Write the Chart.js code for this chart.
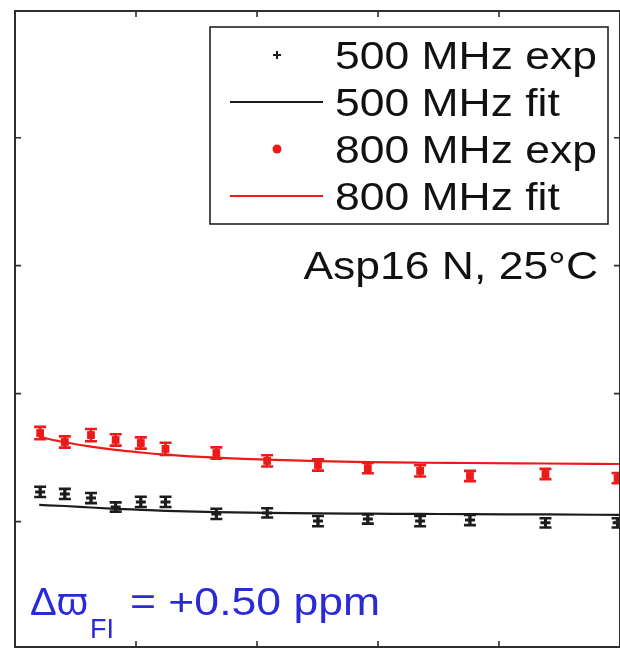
<!DOCTYPE html>
<html>
<head>
<meta charset="utf-8">
<script src="https://cdn.jsdelivr.net/npm/chart.js@4/dist/chart.umd.min.js"></script>
<style>
  html, body { margin: 0; padding: 0; overflow: hidden; background: #fff; }
  #wrap { width: 620px; height: 649px; }
</style>
</head>
<body>
<div id="wrap"><canvas id="c" width="620" height="649"></canvas></div>
<script>
// CPMG frequencies (Hz) of the measured points
const freq = [52, 103, 157, 208, 260, 311, 416, 521, 626, 729, 837, 940, 1096, 1245];

// R2,eff at 500 MHz (measured) and its uncertainty
const r2_500_exp = [6.16, 6.08, 5.92, 5.57, 5.77, 5.77, 5.30, 5.34, 5.02, 5.10, 5.02, 5.06, 4.95, 4.95];
const r2_500_err = [0.20, 0.20, 0.20, 0.18, 0.20, 0.20, 0.20, 0.18, 0.20, 0.18, 0.20, 0.20, 0.18, 0.18];

// R2,eff at 800 MHz (measured) and its uncertainty
const r2_800_exp = [8.46, 8.11, 8.38, 8.19, 8.07, 7.84, 7.68, 7.37, 7.21, 7.09, 6.98, 6.78, 6.86, 6.70];
const r2_800_err = [0.24, 0.22, 0.24, 0.22, 0.22, 0.24, 0.22, 0.22, 0.22, 0.20, 0.22, 0.20, 0.20, 0.20];

// fitted dispersion curves
const fitFreq    = [50, 103, 157, 208, 260, 311, 416, 521, 626, 729, 837, 940, 1096, 1250];
const r2_500_fit = [5.65, 5.61, 5.55, 5.50, 5.46, 5.42, 5.37, 5.34, 5.32, 5.31, 5.30, 5.29, 5.28, 5.26];
const r2_800_fit = [8.31, 8.10, 7.93, 7.80, 7.70, 7.62, 7.50, 7.42, 7.36, 7.32, 7.30, 7.29, 7.27, 7.25];

// axis ranges and tick positions (tick labels are not shown)
const xRange = [0, 1250];
const yRange = [0.1, 24.95];
const xTicks = [250, 500, 750, 1000];
const yTicks = [5, 10, 15, 20];

// texts
const seriesLabels = ['500 MHz exp', '500 MHz fit', '800 MHz exp', '800 MHz fit'];
const residueLabel = 'Asp16 N, 25°C';
const shiftMain = 'Δϖ';
const shiftSub = 'FI';
const shiftValue = '= +0.50 ppm';

const BLACK = '#1c1c1c';
const RED = '#ee1a1a';
const BLUE = '#2a2ad6';
const FONT = '"Liberation Sans", Arial, Helvetica, sans-serif';
const SX = 1.17; // horizontal stretch of the labels

function pts(xs, ys) { return xs.map((x, i) => ({ x: x, y: ys[i] })); }

// draws a label stretched horizontally; an optional width forces its extent
function drawText(ctx, s, x, y, size, color, align, width) {
  ctx.save();
  ctx.font = size + 'px ' + FONT;
  const raw = ctx.measureText(s).width;
  const sx = width ? width / raw : SX;
  const w = raw * sx;
  const x0 = align === 'right' ? x - w : x;
  ctx.translate(x0, y);
  ctx.scale(sx, 1);
  ctx.fillStyle = color;
  ctx.textAlign = 'left';
  ctx.textBaseline = 'alphabetic';
  ctx.fillText(s, 0, 0);
  ctx.restore();
  return w;
}

// vertical error bars with caps on the measured series
const errorBars = {
  id: 'errorBars',
  afterDatasetsDraw(chart) {
    const ctx = chart.ctx;
    const ys = chart.scales.y;
    chart.data.datasets.forEach((ds, di) => {
      if (!ds.errors) return;
      const meta = chart.getDatasetMeta(di);
      ctx.save();
      ctx.strokeStyle = ds.borderColor;
      ctx.lineWidth = 2.6;
      meta.data.forEach((el, i) => {
        const v = ds.data[i].y, e = ds.errors[i];
        const top = ys.getPixelForValue(v + e);
        const bot = ys.getPixelForValue(v - e);
        const hw = ds.capHalf;
        ctx.beginPath();
        ctx.moveTo(el.x, top); ctx.lineTo(el.x, bot);
        ctx.moveTo(el.x - hw, top); ctx.lineTo(el.x + hw, top);
        ctx.moveTo(el.x - hw, bot); ctx.lineTo(el.x + hw, bot);
        ctx.stroke();
      });
      ctx.restore();
    });
  }
};

// box frame with inward ticks on all four sides
const frame = {
  id: 'frame',
  afterDraw(chart) {
    const ctx = chart.ctx, a = chart.chartArea;
    const xs = chart.scales.x, ys = chart.scales.y;
    const tl = 6;
    ctx.save();
    ctx.strokeStyle = '#2e2e2e';
    ctx.lineWidth = 2;
    ctx.strokeRect(a.left, a.top, a.right - a.left, a.bottom - a.top);
    ctx.lineWidth = 1.6;
    ctx.beginPath();
    xTicks.forEach(t => {
      const px = xs.getPixelForValue(t);
      ctx.moveTo(px, a.top); ctx.lineTo(px, a.top + tl);
      ctx.moveTo(px, a.bottom); ctx.lineTo(px, a.bottom - tl);
    });
    yTicks.forEach(t => {
      const py = ys.getPixelForValue(t);
      ctx.moveTo(a.left, py); ctx.lineTo(a.left + tl, py);
      ctx.moveTo(a.right, py); ctx.lineTo(a.right - tl, py);
    });
    ctx.stroke();
    ctx.restore();
  }
};

// legend box and panel annotations
const panelText = {
  id: 'panelText',
  afterDraw(chart) {
    const ctx = chart.ctx;
    const box = { l: 210, t: 27, r: 608, b: 224 };
    ctx.save();
    ctx.fillStyle = '#fff';
    ctx.fillRect(box.l, box.t, box.r - box.l, box.b - box.t);
    ctx.strokeStyle = '#222';
    ctx.lineWidth = 1.6;
    ctx.strokeRect(box.l, box.t, box.r - box.l, box.b - box.t);

    const baselines = [69, 116, 163, 210];
    const sampleL = 230, sampleR = 323, sampleC = 277, textX = 335;
    chart.data.datasets.forEach((ds, i) => {
      const base = baselines[i];
      const cy = base - 14;
      if (ds.showLine) {
        ctx.strokeStyle = ds.borderColor;
        ctx.lineWidth = 2;
        ctx.beginPath();
        ctx.moveTo(sampleL, cy); ctx.lineTo(sampleR, cy);
        ctx.stroke();
      } else if (ds.pointStyle === 'cross') {
        ctx.strokeStyle = ds.borderColor;
        ctx.lineWidth = 2;
        ctx.beginPath();
        ctx.moveTo(sampleC - 4, cy); ctx.lineTo(sampleC + 4, cy);
        ctx.moveTo(sampleC, cy - 4); ctx.lineTo(sampleC, cy + 4);
        ctx.stroke();
      } else {
        ctx.fillStyle = ds.backgroundColor;
        ctx.beginPath();
        ctx.arc(sampleC, cy, 4.5, 0, Math.PI * 2);
        ctx.fill();
      }
      drawText(ctx, ds.label, textX, base, 38, '#111', 'left');
    });

    drawText(ctx, residueLabel, 598, 279, 38, '#111', 'right');

    drawText(ctx, shiftMain, 30, 615, 38, BLUE, 'left', 58);
    drawText(ctx, shiftSub, 90, 638, 27, BLUE, 'left', 24);
    drawText(ctx, shiftValue, 130, 615, 38, BLUE, 'left', 250);
    ctx.restore();
  }
};

new Chart(document.getElementById('c'), {
  type: 'scatter',
  data: {
    datasets: [
      {
        label: seriesLabels[0],
        data: pts(freq, r2_500_exp),
        errors: r2_500_err,
        capHalf: 6,
        showLine: false,
        pointStyle: 'cross',
        pointRadius: 5,
        borderWidth: 3,
        borderColor: BLACK,
        backgroundColor: BLACK
      },
      {
        label: seriesLabels[1],
        data: pts(fitFreq, r2_500_fit),
        showLine: true,
        pointRadius: 0,
        borderWidth: 2.2,
        borderColor: BLACK,
        backgroundColor: BLACK,
        cubicInterpolationMode: 'monotone'
      },
      {
        label: seriesLabels[2],
        data: pts(freq, r2_800_exp),
        errors: r2_800_err,
        capHalf: 6,
        showLine: false,
        pointStyle: 'rect',
        pointRadius: 5.5,
        borderWidth: 0,
        borderColor: RED,
        backgroundColor: RED
      },
      {
        label: seriesLabels[3],
        data: pts(fitFreq, r2_800_fit),
        showLine: true,
        pointRadius: 0,
        borderWidth: 2.2,
        borderColor: RED,
        backgroundColor: RED,
        cubicInterpolationMode: 'monotone'
      }
    ]
  },
  options: {
    responsive: false,
    animation: false,
    events: [],
    devicePixelRatio: 1,
    layout: { autoPadding: false, padding: { left: 15, top: 11, right: -2.6, bottom: 2 } },
    plugins: { legend: { display: false }, tooltip: { enabled: false } },
    scales: {
      x: { type: 'linear', min: xRange[0], max: xRange[1], display: false },
      y: { type: 'linear', min: yRange[0], max: yRange[1], display: false }
    }
  },
  plugins: [errorBars, frame, panelText]
});
</script>
</body>
</html>
